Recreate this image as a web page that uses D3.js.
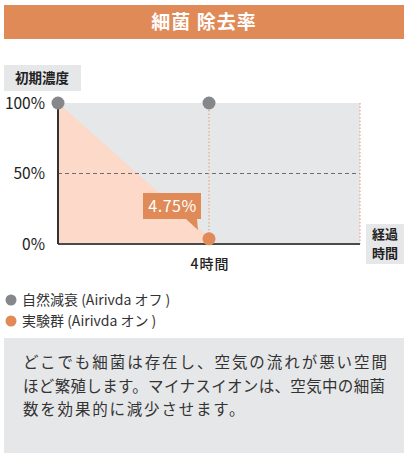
<!DOCTYPE html>
<html lang="ja">
<head>
<meta charset="UTF-8">
<title>細菌 除去率</title>
<script src="https://d3js.org/d3.v7.min.js"></script>
<style>
    body { margin: 0; background: #fff; }
    svg { display: block; font-family: "Noto Sans CJK JP", "Noto Sans", sans-serif; }
</style>
</head>
<body>
<svg id="chart" width="404" height="453"></svg>
<script>
// data
const hours = [0, 4];
const offValues = [100, 100];     // 自然減衰 (Airivda オフ)
const onValues = [100, 4.75];     // 実験群 (Airivda オン)
const yTicks = [0, 50, 100];
const xTickHours = [4];
const xEnd = 8;
const legendLabels = ["自然減衰 (Airivda オフ )", "実験群 (Airivda オン )"];
const descLines = [
    "どこでも細菌は存在し、空気の流れが悪い空間",
    "ほど繁殖します。マイナスイオンは、空気中の細菌",
    "数を効果的に減少させます。"
];
const descWidths = [364, 362, null]; // line widths as seen in the picture

const orange = "#e08a57";
const grey = "#86878b";
const panel = "#e6e7e9";

const svg = d3.select("#chart");

// title bar
svg.append("rect").attr("x", 4).attr("y", 5).attr("width", 400).attr("height", 34).attr("fill", orange);
svg.append("text").attr("x", 204).attr("y", 29).attr("text-anchor", "middle")
    .attr("fill", "#fff").attr("font-size", 19).attr("font-weight", 700)
    .attr("letter-spacing", 1).text("細菌 除去率");

// scales
const x = d3.scaleLinear().domain([0, xEnd]).range([58, 360]);
const y = d3.scaleLinear().domain([0, 100]).range([244, 103]);

// plot background
svg.append("rect").attr("x", x(0)).attr("y", y(100))
    .attr("width", x(xEnd) - x(0)).attr("height", y(0) - y(100)).attr("fill", panel);

// pink area under experiment line
const area = d3.area().x((d, i) => x(hours[i])).y0(y(0)).y1(d => y(d));
svg.append("path").datum(onValues).attr("d", area).attr("fill", "#fcd9c8");

// 50% dashed line
svg.append("line").attr("x1", x(0)).attr("x2", x(xEnd)).attr("y1", y(50)).attr("y2", y(50))
    .attr("stroke", "#6d6d6d").attr("stroke-width", 1.2).attr("stroke-dasharray", "4,3");

// orange dotted verticals
[4, xEnd].forEach(h => {
    svg.append("line").attr("x1", x(h)).attr("x2", x(h)).attr("y1", y(100)).attr("y2", y(0))
        .attr("stroke", "#eba685").attr("stroke-width", 1.2).attr("stroke-dasharray", "1.5,2");
});

// axes
svg.append("line").attr("x1", x(0)).attr("x2", x(xEnd)).attr("y1", y(0)).attr("y2", y(0))
    .attr("stroke", "#4a4a4a").attr("stroke-width", 2);
svg.append("line").attr("x1", x(0)).attr("x2", x(0)).attr("y1", y(100)).attr("y2", y(0))
    .attr("stroke", "#333").attr("stroke-width", 2);

// y tick labels
svg.selectAll(".ytick").data(yTicks).enter().append("text")
    .attr("x", 45).attr("y", d => y(d) + 5.5).attr("text-anchor", "end")
    .attr("font-size", 15.5).attr("fill", "#222").text(d => d + "%");

// x tick label
svg.selectAll(".xtick").data(xTickHours).enter().append("text")
    .attr("x", d => x(d) + 1).attr("y", 269).attr("text-anchor", "middle")
    .attr("font-size", 14).attr("font-weight", 500).attr("letter-spacing", 1)
    .attr("fill", "#222").text(d => d + "時間");

// axis title boxes
svg.append("rect").attr("x", 4).attr("y", 65).attr("width", 77).attr("height", 26).attr("fill", panel);
svg.append("text").attr("x", 42).attr("y", 83).attr("text-anchor", "middle")
    .attr("font-size", 13.5).attr("font-weight", 700).attr("fill", "#222").text("初期濃度");
svg.append("rect").attr("x", 366).attr("y", 224).attr("width", 38).attr("height", 40).attr("fill", panel);
svg.append("text").attr("x", 385).attr("y", 239).attr("text-anchor", "middle")
    .attr("font-size", 13).attr("font-weight", 700).attr("fill", "#222").text("経過");
svg.append("text").attr("x", 385).attr("y", 258).attr("text-anchor", "middle")
    .attr("font-size", 13).attr("font-weight", 700).attr("fill", "#222").text("時間");

// points
svg.selectAll(".off").data(offValues).enter().append("circle")
    .attr("cx", (d, i) => x(hours[i])).attr("cy", d => y(d)).attr("r", 6.5).attr("fill", grey);
svg.append("circle").attr("cx", x(hours[1])).attr("cy", y(onValues[1]) + 1.5).attr("r", 6.5).attr("fill", orange);

// callout for final value
svg.append("path").attr("fill", orange)
    .attr("d", `M143,193 H201 V219 H197 L198,230 L186,219 H143 Z`);
svg.append("text").attr("x", 172.5).attr("y", 212).attr("text-anchor", "middle")
    .attr("font-size", 16).attr("letter-spacing", 0.5).attr("fill", "#fff").text(onValues[1] + "%");

// legend
const legendColors = [grey, orange];
legendLabels.forEach((t, i) => {
    svg.append("circle").attr("cx", 11).attr("cy", 300 + i * 21).attr("r", 5.5).attr("fill", legendColors[i]);
    svg.append("text").attr("x", 22).attr("y", 305 + i * 21).attr("font-size", 14)
        .attr("fill", "#333").text(t);
});

// description panel
svg.append("rect").attr("x", 4).attr("y", 338).attr("width", 400).attr("height", 115).attr("fill", panel);
descLines.forEach((t, i) => {
    const txt = svg.append("text")
        .attr("x", 23).attr("y", 368 + i * 23.5)
        .attr("font-size", 15.5).attr("fill", "#333").text(t);
    if (descWidths[i]) txt.attr("textLength", descWidths[i]).attr("lengthAdjust", "spacing");
    else txt.attr("letter-spacing", 1.8);
});
</script>
</body>
</html>
